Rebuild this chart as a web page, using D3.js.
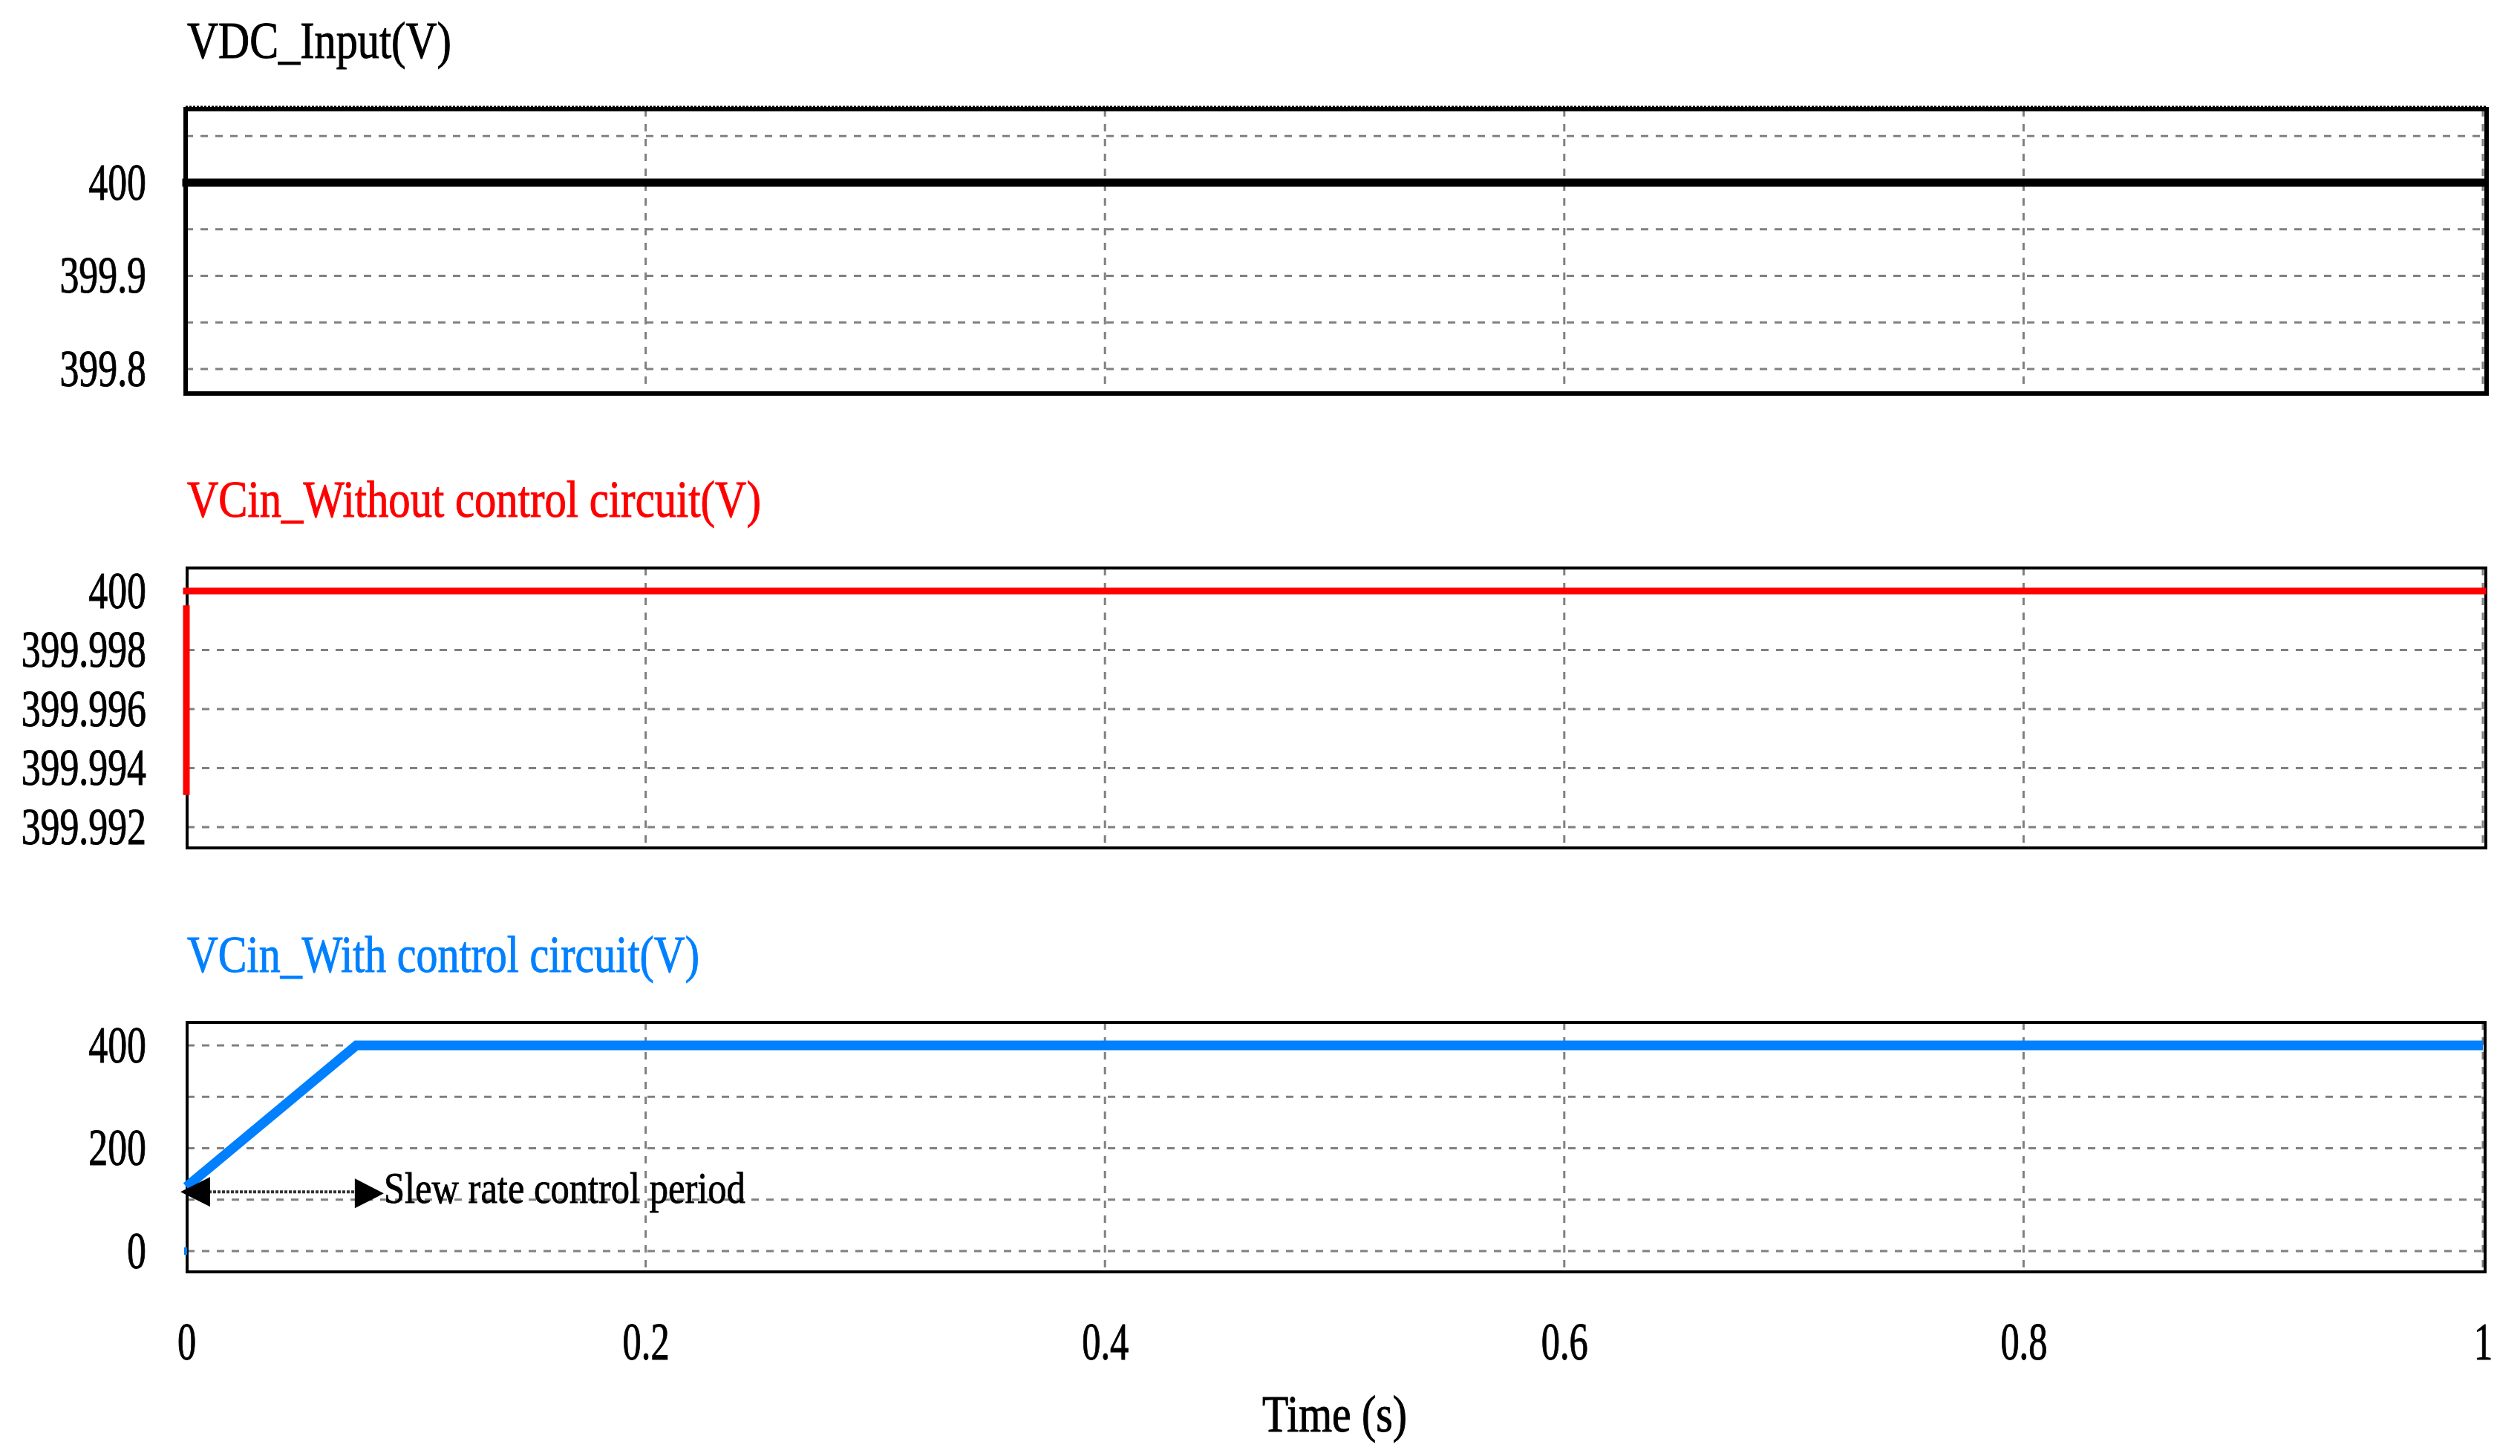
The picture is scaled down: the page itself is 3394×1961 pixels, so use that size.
<!DOCTYPE html>
<html>
<head>
<meta charset="utf-8">
<script src="https://cdn.jsdelivr.net/npm/d3@7/dist/d3.min.js"></script>
<style>
  html, body { margin: 0; padding: 0; background: #fff; }
  svg { display: block; }
  text { font-family: "Liberation Serif", "Times New Roman", serif; }
</style>
</head>
<body>
<svg id="chart" width="3394" height="1961"></svg>
<script>
// ---------- data ----------
const titles = ["VDC_Input(V)", "VCin_Without control circuit(V)", "VCin_With control circuit(V)"];
const xTicks = [0, 0.2, 0.4, 0.6, 0.8, 1];
const xTickLabels = ["0", "0.2", "0.4", "0.6", "0.8", "1"];
const xLabel = "Time (s)";

// panel 1: VDC input
const tInput = [0, 1];
const vInput = [400, 400];
const p1Ticks = [400, 399.9, 399.8];
const p1Grid = [400.05, 400, 399.95, 399.9, 399.85, 399.8];

// panel 2: VCin without control circuit
const tWithout = [0, 0, 0, 0, 1];
const vWithout = [399.9932, 399.9994, null, 400, 400];
const p2Ticks = [400, 399.998, 399.996, 399.994, 399.992];
const p2Grid = [400, 399.998, 399.996, 399.994, 399.992];

// panel 3: VCin with control circuit
const tWith = [0, 0.074, 1];
const vWith = [125, 400, 400];
const tWithStart = [0];
const vWithStart = [0];
const p3Ticks = [400, 200, 0];
const p3Grid = [400, 300, 200, 100, 0];

// annotation
const annoText = "Slew rate control period";
const annoT0 = 0, annoT1 = 0.074, annoV = 115;

// ---------- layout ----------
const svg = d3.select("#chart");
const x = d3.scaleLinear().domain([0, 1]).range([251, 3344]);

const panels = [
  { box: [250, 147, 3349, 530], y: d3.scaleLinear().domain([399.8, 400]).range([497, 246]),
    ticks: p1Ticks, grid: p1Grid, fmt: d => d3.format("")(d), color: "#000",
    title: titles[0], titleY: 78, titleW: 356, border: 6 },
  { box: [252, 765, 3348, 1142], y: d3.scaleLinear().domain([399.992, 400]).range([1114, 796]),
    ticks: p2Ticks, grid: p2Grid, fmt: d => d3.format("")(d), color: "#ff0000",
    title: titles[1], titleY: 696, titleW: 773, border: 4 },
  { box: [252, 1377, 3347, 1713], y: d3.scaleLinear().domain([0, 400]).range([1685, 1408]),
    ticks: p3Ticks, grid: p3Grid, fmt: d => String(d), color: "#0080ff",
    title: titles[2], titleY: 1309, titleW: 690, border: 4 }
];

const grey = "#808080";

function compress(sel, ratio) {
  sel.each(function () {
    const len = this.getComputedTextLength();
    d3.select(this).attr("textLength", len * ratio).attr("lengthAdjust", "spacingAndGlyphs");
  });
}

panels.forEach((p, i) => {
  const [x0, y0, x1, y1] = p.box;
  const g = svg.append("g");

  // title
  g.append("text").attr("x", 252).attr("y", p.titleY)
    .attr("font-size", 70).attr("fill", p.color)
    .attr("stroke", p.color).attr("stroke-width", 1)
    .attr("textLength", p.titleW).attr("lengthAdjust", "spacingAndGlyphs")
    .text(p.title);

  // horizontal grid
  g.selectAll(".hg").data(p.grid).join("line")
    .attr("x1", x0).attr("x2", x1)
    .attr("y1", d => p.y(d)).attr("y2", d => p.y(d))
    .attr("stroke", grey).attr("stroke-width", 3).attr("stroke-dasharray", "10,10");

  // vertical grid
  g.selectAll(".vg").data(xTicks.filter(d => d > 0)).join("line")
    .attr("x1", d => x(d)).attr("x2", d => x(d))
    .attr("y1", y0).attr("y2", y1)
    .attr("stroke", grey).attr("stroke-width", 3).attr("stroke-dasharray", "10,10");

  // frame
  g.append("rect").attr("x", x0).attr("y", y0).attr("width", x1 - x0).attr("height", y1 - y0)
    .attr("fill", "none").attr("stroke", "#000").attr("stroke-width", p.border);

  // y axis labels
  const ax = d3.axisLeft(p.y).tickValues(p.ticks).tickFormat(p.fmt).tickSize(0).tickPadding(0);
  const ag = svg.append("g").attr("transform", "translate(197,0)").call(ax);
  ag.select(".domain").remove();
  ag.selectAll("text").attr("font-size", 70).attr("fill", "#000")
    .attr("stroke", "#000").attr("stroke-width", 1)
    .attr("font-family", "Liberation Serif").call(compress, 0.74);
});

// panel 1 dotted top edge
svg.append("line").attr("x1", 250).attr("x2", 3349).attr("y1", 145).attr("y2", 145)
  .attr("stroke", "#000").attr("stroke-width", 5).attr("stroke-dasharray", "3,2");

// series lines
const line = (yS) => d3.line().defined(d => d.v != null).x(d => x(d.t)).y(d => yS(d.v));

const s1 = tInput.map((t, i) => ({ t, v: vInput[i] }));
svg.append("path").datum(s1).attr("d", line(panels[0].y))
  .attr("fill", "none").attr("stroke", "#000").attr("stroke-width", 11).attr("stroke-linecap", "square");

const s2 = tWithout.map((t, i) => ({ t, v: vWithout[i] }));
svg.append("path").datum(s2).attr("d", line(panels[1].y))
  .attr("fill", "none").attr("stroke", "#ff0000").attr("stroke-width", 9).attr("stroke-linecap", "square");

const s3 = tWith.map((t, i) => ({ t, v: vWith[i] }));
svg.append("path").datum(s3).attr("d", line(panels[2].y))
  .attr("fill", "none").attr("stroke", "#0080ff").attr("stroke-width", 13)
  .attr("stroke-linejoin", "miter").attr("stroke-linecap", "butt");

svg.selectAll(".s3start").data(tWithStart.map((t, i) => ({ t, v: vWithStart[i] }))).join("rect")
  .attr("x", d => x(d.t) - 3).attr("y", d => panels[2].y(d.v) - 5)
  .attr("width", 4).attr("height", 10).attr("fill", "#0080ff");

// annotation arrow
const ay = panels[2].y(annoV);
const ax0 = x(annoT0), ax1 = x(annoT1);
svg.append("line").attr("x1", ax0 + 30).attr("x2", ax1).attr("y1", ay).attr("y2", ay)
  .attr("stroke", "#333").attr("stroke-width", 4).attr("stroke-dasharray", "4,2");
svg.append("path")
  .attr("d", `M${ax0 - 8},${ay} L${ax0 + 32},${ay - 20} L${ax0 + 32},${ay + 20} Z`)
  .attr("fill", "#000");
svg.append("path")
  .attr("d", `M${ax1 + 37},${ay + 2} L${ax1 - 2},${ay - 18} L${ax1 - 2},${ay + 22} Z`)
  .attr("fill", "#000");
svg.append("text").attr("x", ax1 + 37).attr("y", ay + 15)
  .attr("font-size", 60).attr("fill", "#000").attr("stroke", "#000").attr("stroke-width", 0.8)
  .attr("textLength", 487).attr("lengthAdjust", "spacingAndGlyphs")
  .text(annoText);

// x axis labels
const xa = d3.axisBottom(x).tickValues(xTicks).tickFormat((d, i) => xTickLabels[i]).tickSize(0).tickPadding(0);
const xg = svg.append("g").attr("transform", "translate(0,1780)").call(xa);
xg.select(".domain").remove();
xg.selectAll("text").attr("font-size", 72).attr("fill", "#000")
  .attr("stroke", "#000").attr("stroke-width", 1)
  .attr("font-family", "Liberation Serif").call(compress, 0.7);

svg.append("text").attr("x", x(0.5)).attr("y", 1928).attr("text-anchor", "middle")
  .attr("font-size", 70).attr("fill", "#000").attr("stroke", "#000").attr("stroke-width", 1)
  .attr("textLength", 195).attr("lengthAdjust", "spacingAndGlyphs")
  .text(xLabel);
</script>
</body>
</html>
